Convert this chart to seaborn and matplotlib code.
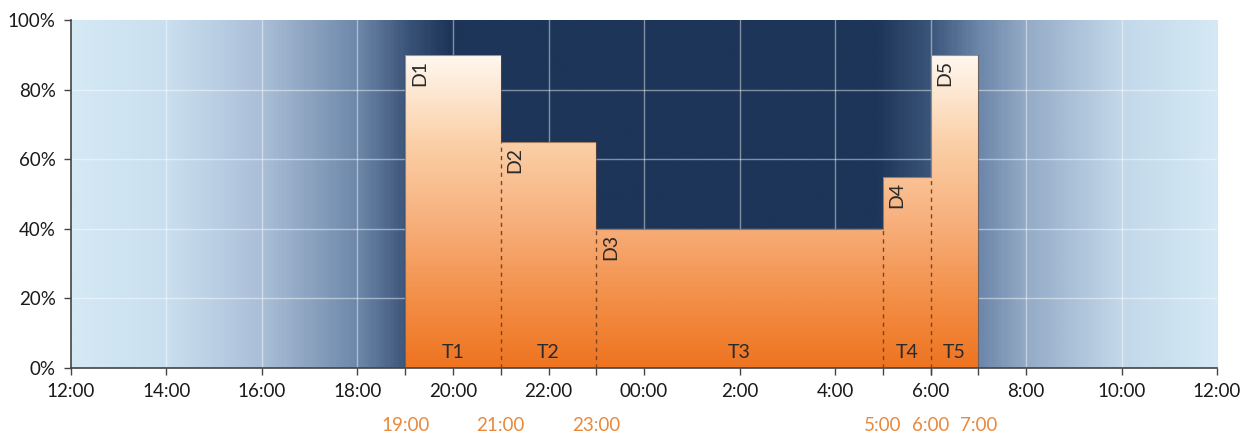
import numpy as np
import pandas as pd
import matplotlib
matplotlib.use("Agg")
import matplotlib.pyplot as plt
from matplotlib.colors import LinearSegmentedColormap
from matplotlib.patches import Polygon
import seaborn as sns

# hours counted from 12:00 (0) to 12:00 next day (24)
seg_start = [7, 9, 11, 17, 18]
seg_end = [9, 11, 17, 18, 19]
seg_level = [90, 65, 40, 55, 90]
d_labels = ["D1", "D2", "D3", "D4", "D5"]
t_labels = ["T1", "T2", "T3", "T4", "T5"]

major_hours = [0, 2, 4, 6, 8, 10, 12, 14, 16, 18, 20, 22, 24]
major_labels = ["12:00", "14:00", "16:00", "18:00", "20:00", "22:00", "00:00",
                "2:00", "4:00", "6:00", "8:00", "10:00", "12:00"]
switch_hours = [7, 9, 11, 17, 18, 19]
switch_labels = ["19:00", "21:00", "23:00", "5:00", "6:00", "7:00"]
y_ticks = [0, 20, 40, 60, 80, 100]

sns.set_style("white")
plt.rcParams["font.family"] = ["Lato", "DejaVu Sans"]

fig = plt.figure(figsize=(12.56, 4.36), dpi=100)
ax = fig.add_axes([0.0565, 0.156, 0.9125, 0.798])

# sky background: light by day, dark navy at night
sky = LinearSegmentedColormap.from_list("sky", [
    (0.0, "#d4e9f4"), (2 / 24, "#c9dfef"), (4 / 24, "#a9bed7"),
    (6 / 24, "#6c86a8"), (7 / 24, "#3b5479"), (7.9 / 24, "#1d3558"),
    (16.9 / 24, "#1d3558"), (18 / 24, "#3a5479"), (19 / 24, "#6a84a8"),
    (20 / 24, "#93aac6"), (22 / 24, "#c2d7e9"), (1.0, "#d4e9f4")])
ax.imshow(np.linspace(0, 1, 600)[None, :], cmap=sky, aspect="auto",
          extent=[0, 24, 0, 100], zorder=0, interpolation="bilinear")

for h in major_hours[1:-1]:
    ax.axvline(h, color="white", lw=1, alpha=0.45, zorder=1)
for v in y_ticks[1:-1]:
    ax.axhline(v, color="white", lw=1, alpha=0.45, zorder=1)

# step outline of the dimming profile
xs = [seg_start[0]]
ys = [0]
for s, e, lv in zip(seg_start, seg_end, seg_level):
    xs += [s, e]
    ys += [lv, lv]
xs.append(seg_end[-1])
ys.append(0)
steps = pd.DataFrame({"hour": xs, "level": ys})

poly = Polygon(np.column_stack([steps["hour"], steps["level"]]), closed=True,
               facecolor="none", edgecolor="none", transform=ax.transData)
ax.add_patch(poly)
warm = LinearSegmentedColormap.from_list("warm", [
    (0.0, "#ee7420"), (0.2, "#f38f48"), (0.4, "#f7ad78"),
    (0.65, "#fbd0a8"), (0.9, "#fff8f0"), (1.0, "#ffffff")])
grad = ax.imshow(np.linspace(0, 1, 400)[:, None], cmap=warm, aspect="auto",
                 origin="lower", extent=[0, 24, 0, 100], zorder=2)
grad.set_clip_path(poly)

sns.lineplot(data=steps, x="hour", y="level", sort=False, estimator=None,
             color="#6b4a30", lw=0.8, alpha=0.6, ax=ax, zorder=3)

# dashed dividers between segments
for i in range(1, len(seg_start)):
    top = min(seg_level[i - 1], seg_level[i])
    ax.plot([seg_start[i], seg_start[i]], [0, top], color="#7a4522",
            lw=1, ls=(0, (3, 3)), zorder=3)

for s, e, lv, d, t in zip(seg_start, seg_end, seg_level, d_labels, t_labels):
    ax.text(s + 0.12, lv - 1.5, d, rotation=90, ha="left", va="top",
            fontsize=14, color="#2a2a2a", zorder=4)
    ax.text((s + e) / 2, 2, t, ha="center", va="bottom",
            fontsize=14, color="#2a2a2a", zorder=4)

ax.set_xlim(0, 24)
ax.set_ylim(0, 100)
ax.xaxis.remove_overlapping_locs = False
ax.set_xticks(major_hours, major_labels)
ax.set_xticks(switch_hours, switch_labels, minor=True)
ax.set_yticks(y_ticks, [f"{v}%" for v in y_ticks])
ax.tick_params(axis="both", which="both", direction="out", length=5,
               width=1, color="#444444", labelsize=13.5, labelcolor="#1a1a1a")
ax.tick_params(axis="x", which="major", pad=6, bottom=True)
ax.tick_params(axis="x", which="minor", pad=30, labelcolor="#e8893c", bottom=True)
ax.tick_params(axis="y", left=True, pad=6)
ax.set_xlabel("")
ax.set_ylabel("")
for side in ["top", "right"]:
    ax.spines[side].set_visible(False)
for side in ["left", "bottom"]:
    ax.spines[side].set_color("#444444")
    ax.spines[side].set_linewidth(1.2)

fig.savefig("out.png", dpi=100)
